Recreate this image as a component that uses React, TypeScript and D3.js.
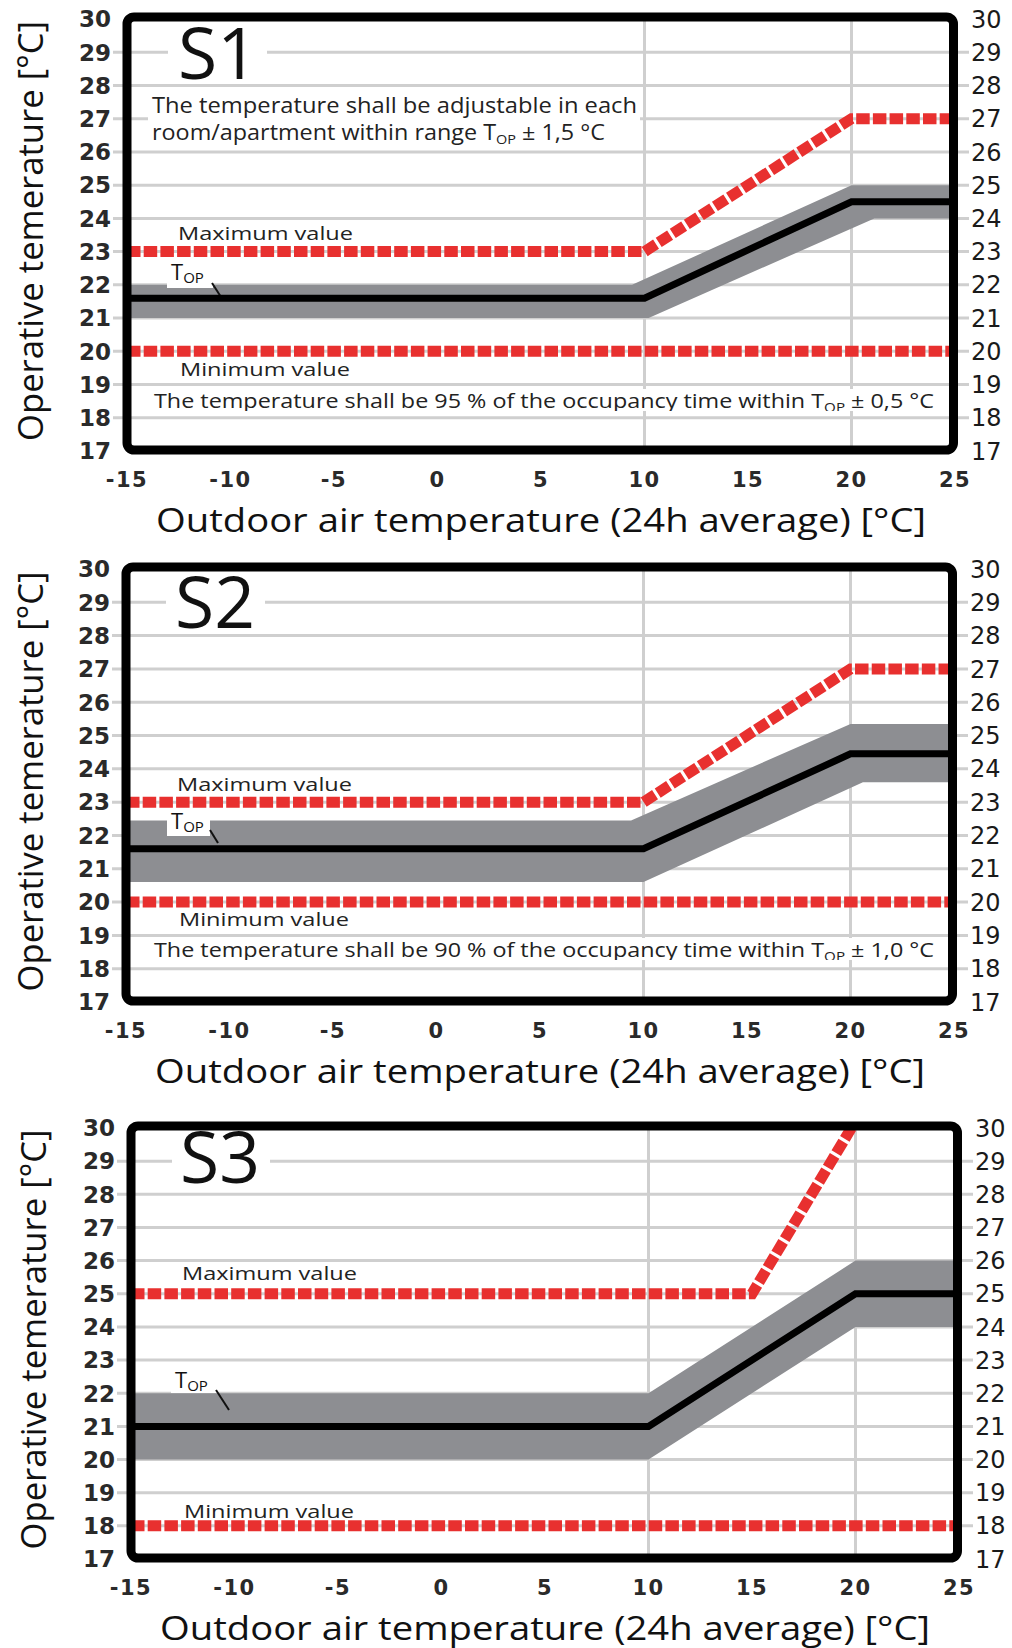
import React from 'react';
import * as d3 from 'd3';

// ---------- shared axis data ----------
const xTickValues = [-15, -10, -5, 0, 5, 10, 15, 20, 25];
const yTickValues = [17, 18, 19, 20, 21, 22, 23, 24, 25, 26, 27, 28, 29, 30];
const hGridValues = [18, 19, 20, 21, 22, 23, 24, 25, 26, 27, 28, 29];
const vGridValues = [10, 20];
const xDomain = [-15, 25];
const yDomain = [17, 30];

const xTitle = 'Outdoor air temperature (24h average) [°C]';
const yTitle = 'Operative temerature [°C]';
const maxLabel = 'Maximum value';
const minLabel = 'Minimum value';

// ---------- S1 ----------
const s1TopX = [-15, 10, 20, 25];
const s1TopY = [21.6, 21.6, 24.5, 24.5];
const s1MaxX = [-15, 10, 20, 25];
const s1MaxY = [23, 23, 27, 27];
const s1MinX = [-15, 25];
const s1MinY = [20, 20];
const s1BandUpperX = [-15, 9.4, 20, 25];
const s1BandUpperY = [22, 22, 25, 25];
const s1BandLowerX = [-15, 10.2, 21.1, 25];
const s1BandLowerY = [21, 21, 24, 24];
const s1TopNote = ['The temperature shall be adjustable in each', 'room/apartment within range T', 'OP', ' ± 1,5 °C'];
const s1BottomNote = ['The temperature shall be 95 % of the occupancy time within T', 'OP', ' ± 0,5 °C'];

// ---------- S2 ----------
const s2TopX = [-15, 10, 20, 25];
const s2TopY = [21.6, 21.6, 24.45, 24.45];
const s2MaxX = [-15, 10, 20, 25];
const s2MaxY = [23, 23, 27, 27];
const s2MinX = [-15, 25];
const s2MinY = [20, 20];
const s2BandUpperX = [-15, 9.4, 20, 25];
const s2BandUpperY = [22.45, 22.45, 25.35, 25.35];
const s2BandLowerX = [-15, 10, 20.6, 25];
const s2BandLowerY = [20.6, 20.6, 23.6, 23.6];
const s2BottomNote = ['The temperature shall be 90 % of the occupancy time within T', 'OP', ' ± 1,0 °C'];

// ---------- S3 ----------
const s3TopX = [-15, 10, 20, 25];
const s3TopY = [21, 21, 25, 25];
const s3MaxX = [-15, 15, 19.8];
const s3MaxY = [25, 25, 30];
const s3MinX = [-15, 25];
const s3MinY = [18, 18];
const s3BandUpperX = [-15, 10, 20, 25];
const s3BandUpperY = [22, 22, 26, 26];
const s3BandLowerX = [-15, 10, 20, 25];
const s3BandLowerY = [20, 20, 24, 24];

const zip = (a: number[], b: number[]) => a.map((v, i) => [v, b[i]] as [number, number]);

const RED = '#e8302f';
const GRID = '#cfcfcf';
const BAND = '#8d8e92';
const TXT = "'Open Sans', sans-serif";
const TICKF = "'DejaVu Sans', sans-serif";

type Cfg = {
  id: string;
  name: string;
  xRange: [number, number];
  yRange: [number, number];
  topX: number[]; topY: number[];
  maxX: number[]; maxY: number[];
  minX: number[]; minY: number[];
  upX: number[]; upY: number[];
  loX: number[]; loY: number[];
  sX: number; sY: number; sBox: [number, number, number, number];
  maxLX: number; maxLY: number;
  minLX: number; minLY: number;
  tBox: [number, number, number, number]; tX: number; tY: number; leader: [number, number, number, number];
  topNote?: string[]; topNoteY?: number;
  bottomNote?: string[]; bottomNoteY?: number; bottomClipY?: number;
  yTitleX: number;
};

function Panel({ c }: { c: Cfg }) {
  const xs = d3.scaleLinear().domain(xDomain).range(c.xRange);
  const ys = d3.scaleLinear().domain(yDomain).range(c.yRange);
  const line = d3.line<[number, number]>().x(d => xs(d[0])).y(d => ys(d[1]));
  const bandPath = line(zip(c.upX, c.upY).concat(zip(c.loX, c.loY).reverse())) + 'Z';
  const x0 = xs(-15), x1 = xs(25), yT = ys(30), yB = ys(17);
  const xt = (x0 + x1) / 2;
  return (
    <g>
      <defs>
        <clipPath id={'clip-' + c.id}>
          <rect x={x0} y={yT - 2} width={x1 - x0 - 1} height={yB - yT + 1} />
        </clipPath>
        {c.bottomClipY !== undefined && (
          <clipPath id={'note-' + c.id}>
            <rect x={0} y={c.bottomClipY - 40} width={1012} height={40} />
          </clipPath>
        )}
      </defs>
      {/* gridlines */}
      {hGridValues.map(v => (
        <line key={'h' + v} x1={x0 - 14} x2={x1 + 14} y1={ys(v)} y2={ys(v)} stroke={GRID} strokeWidth={3} />
      ))}
      {vGridValues.map(v => (
        <line key={'v' + v} x1={xs(v)} x2={xs(v)} y1={yT} y2={yB} stroke={GRID} strokeWidth={3} />
      ))}
      {/* S label */}
      <rect x={c.sBox[0]} y={c.sBox[1]} width={c.sBox[2]} height={c.sBox[3]} fill="#fff" />
      <text x={c.sX} y={c.sY} fontFamily={TXT} fontSize={72} textLength={80} lengthAdjust="spacingAndGlyphs" fill="#111">{c.name}</text>
      {/* top note */}
      {c.topNote && c.topNoteY !== undefined && (
        <g>
          <rect x={148} y={c.topNoteY - 18} width={492} height={52} fill="#fff" />
          <text x={152} y={c.topNoteY + 1} fontFamily={TXT} fontSize={21} textLength={485} lengthAdjust="spacingAndGlyphs" fill="#222">{c.topNote[0]}</text>
          <text x={152} y={c.topNoteY + 28} fontFamily={TXT} fontSize={21} textLength={453} lengthAdjust="spacingAndGlyphs" fill="#222">
            {c.topNote[1]}<tspan fontSize={13} dy={4}>{c.topNote[2]}</tspan><tspan dy={-4}>{c.topNote[3]}</tspan>
          </text>
        </g>
      )}
      {/* bottom note */}
      {c.bottomNote && c.bottomNoteY !== undefined && (
        <g>
          <rect x={150} y={c.bottomNoteY - 19} width={790} height={22} fill="#fff" />
          <g clipPath={`url(#note-${c.id})`}>
            <text x={154} y={c.bottomNoteY} fontFamily={TXT} fontSize={20} textLength={780} lengthAdjust="spacingAndGlyphs" fill="#222">
              {c.bottomNote[0]}<tspan fontSize={13} dy={4}>{c.bottomNote[1]}</tspan><tspan dy={-4}>{c.bottomNote[2]}</tspan>
            </text>
          </g>
        </g>
      )}
      {/* labels max/min */}
      <text x={c.maxLX} y={c.maxLY} fontFamily={TXT} fontSize={19} textLength={175} lengthAdjust="spacingAndGlyphs" fill="#222">{maxLabel}</text>
      <text x={c.minLX} y={c.minLY} fontFamily={TXT} fontSize={19} textLength={170} lengthAdjust="spacingAndGlyphs" fill="#222">{minLabel}</text>
      <g clipPath={`url(#clip-${c.id})`}>
        <path d={bandPath} fill={BAND} />
        {/* T_OP label box */}
        <rect x={c.tBox[0]} y={c.tBox[1]} width={c.tBox[2]} height={c.tBox[3]} fill="#fff" />
        <text x={c.tX} y={c.tY} fontFamily={TXT} fontSize={22} fill="#111">T<tspan fontSize={15} dy={3}>OP</tspan></text>
        <line x1={c.leader[0]} y1={c.leader[1]} x2={c.leader[2]} y2={c.leader[3]} stroke="#111" strokeWidth={2} />
        <path d={line(zip(c.topX, c.topY)) || ''} fill="none" stroke="#000" strokeWidth={7} strokeLinejoin="miter" />
        <path d={line(zip(c.minX, c.minY)) || ''} fill="none" stroke={RED} strokeWidth={11} strokeDasharray="13.5 3.2" />
        <path d={line(zip(c.maxX, c.maxY)) || ''} fill="none" stroke={RED} strokeWidth={11} strokeDasharray="13.5 3.2" />
      </g>
      {/* frame */}
      <rect x={x0} y={yT - 2} width={x1 - x0 - 1.5} height={yB - yT + 1} rx={7} fill="none" stroke="#000" strokeWidth={9} />
      {/* y tick labels */}
      {yTickValues.map(v => (
        <text key={'yl' + v} x={x0 - 16} y={ys(v)} dy="0.36em" textAnchor="end" fontFamily={TICKF} fontWeight="bold" fontSize={23} fill="#2a2a2a">{v}</text>
      ))}
      {yTickValues.map(v => (
        <text key={'yr' + v} x={x1 + 16} y={ys(v)} dy="0.36em" textAnchor="start" fontFamily={TICKF} fontSize={24} fill="#1a1a1a">{v}</text>
      ))}
      {/* x tick labels */}
      {xTickValues.map(v => (
        <text key={'xl' + v} x={xs(v)} y={yB + 36} textAnchor="middle" fontFamily={TICKF} fontWeight="bold" fontSize={21} letterSpacing={1.5} fill="#2a2a2a">{v}</text>
      ))}
      {/* axis titles */}
      <text x={xt} y={yB + 81} textAnchor="middle" fontFamily={TXT} fontSize={32} textLength={770} lengthAdjust="spacingAndGlyphs" fill="#111">{xTitle}</text>
      <text transform={`translate(${c.yTitleX},${(yT + yB) / 2 - 4}) rotate(-90)`} textAnchor="middle" fontFamily={TXT} fontSize={35} textLength={420} lengthAdjust="spacingAndGlyphs" fill="#111">{yTitle}</text>
    </g>
  );
}

const panels: Cfg[] = [
  {
    id: 'p1', name: 'S1', xRange: [127, 955], yRange: [451, 19],
    topX: s1TopX, topY: s1TopY, maxX: s1MaxX, maxY: s1MaxY, minX: s1MinX, minY: s1MinY,
    upX: s1BandUpperX, upY: s1BandUpperY, loX: s1BandLowerX, loY: s1BandLowerY,
    sX: 178, sY: 79, sBox: [168, 26, 99, 54],
    maxLX: 178, maxLY: 240, minLX: 180, minLY: 376,
    tBox: [167, 257, 46, 31], tX: 171, tY: 280, leader: [212, 283, 221, 297],
    topNote: s1TopNote, topNoteY: 112,
    bottomNote: s1BottomNote, bottomNoteY: 408, bottomClipY: 411,
    yTitleX: 43,
  },
  {
    id: 'p2', name: 'S2', xRange: [126, 954], yRange: [1002, 569],
    topX: s2TopX, topY: s2TopY, maxX: s2MaxX, maxY: s2MaxY, minX: s2MinX, minY: s2MinY,
    upX: s2BandUpperX, upY: s2BandUpperY, loX: s2BandLowerX, loY: s2BandLowerY,
    sX: 175, sY: 628, sBox: [166, 578, 99, 50],
    maxLX: 177, maxLY: 791, minLX: 179, minLY: 926,
    tBox: [167, 805, 43, 31], tX: 171, tY: 829, leader: [210, 830, 218, 843],
    bottomNote: s2BottomNote, bottomNoteY: 957, bottomClipY: 960,
    yTitleX: 43,
  },
  {
    id: 'p3', name: 'S3', xRange: [131, 959], yRange: [1559, 1128],
    topX: s3TopX, topY: s3TopY, maxX: s3MaxX, maxY: s3MaxY, minX: s3MinX, minY: s3MinY,
    upX: s3BandUpperX, upY: s3BandUpperY, loX: s3BandLowerX, loY: s3BandLowerY,
    sX: 180, sY: 1183, sBox: [172, 1135, 98, 48],
    maxLX: 182, maxLY: 1280, minLX: 184, minLY: 1518,
    tBox: [171, 1364, 47, 29], tX: 175, tY: 1388, leader: [216, 1390, 229, 1410],
    yTitleX: 46,
  },
];

export default function App() {
  return (
    <svg width={1012} height={1648} viewBox="0 0 1012 1648" style={{ position: 'absolute', left: 0, top: 0, background: '#fff' }}>
      <rect width={1012} height={1648} fill="#fff" />
      {panels.map(p => <Panel key={p.id} c={p} />)}
    </svg>
  );
}
